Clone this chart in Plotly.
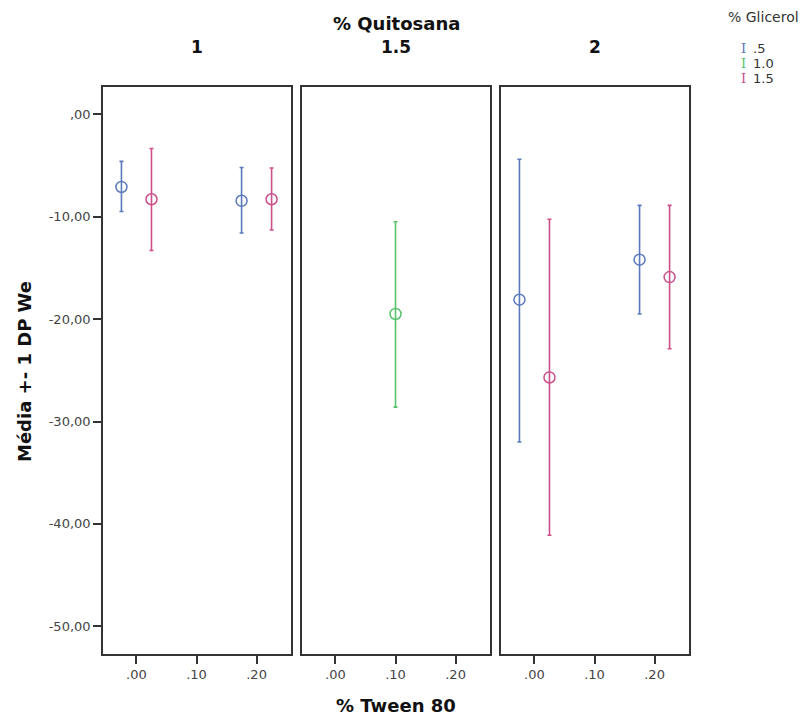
import plotly.graph_objects as go

# ---- data ----
quitosana_levels = ["1", "1.5", "2"]
glicerol_levels = [".5", "1.0", "1.5"]
glicerol_colors = ["#5a78bd", "#56c26a", "#cc4f8a"]

# per panel, per glicerol: tween values, means, upper (mean+1SD), lower (mean-1SD)
tween_q1_g05 = [0.0, 0.2]
mean_q1_g05 = [-7.1, -8.45]
upper_q1_g05 = [-4.6, -5.2]
lower_q1_g05 = [-9.5, -11.6]

tween_q1_g15 = [0.0, 0.2]
mean_q1_g15 = [-8.3, -8.3]
upper_q1_g15 = [-3.35, -5.25]
lower_q1_g15 = [-13.3, -11.3]

tween_q15_g10 = [0.1]
mean_q15_g10 = [-19.5]
upper_q15_g10 = [-10.5]
lower_q15_g10 = [-28.6]

tween_q2_g05 = [0.0, 0.2]
mean_q2_g05 = [-18.1, -14.2]
upper_q2_g05 = [-4.4, -8.9]
lower_q2_g05 = [-32.0, -19.5]

tween_q2_g15 = [0.0, 0.2]
mean_q2_g15 = [-25.7, -15.9]
upper_q2_g15 = [-10.25, -8.9]
lower_q2_g15 = [-41.1, -22.9]

y_tickvals = [0, -10, -20, -30, -40, -50]
y_ticktext = [",00", "-10,00", "-20,00", "-30,00", "-40,00", "-50,00"]
x_tickvals = [0.0, 0.1, 0.2]
x_ticktext = [".00", ".10", ".20"]

panels = [
    [(0, tween_q1_g05, mean_q1_g05, upper_q1_g05, lower_q1_g05),
     (2, tween_q1_g15, mean_q1_g15, upper_q1_g15, lower_q1_g15)],
    [(1, tween_q15_g10, mean_q15_g10, upper_q15_g10, lower_q15_g10)],
    [(0, tween_q2_g05, mean_q2_g05, upper_q2_g05, lower_q2_g05),
     (2, tween_q2_g15, mean_q2_g15, upper_q2_g15, lower_q2_g15)],
]

OFF = 8  # page body margin
W, H = 799, 710
panel_px = [(103, 291), (302, 490), (501, 689)]
ytop, ybot = 87, 654
dodge = 0.025


def px(xp):
    return (xp - OFF) / W


def py(yp):
    return 1 - (yp - OFF) / H


fig = go.Figure()
FONT = "DejaVu Sans, Verdana, sans-serif"

for pi, series in enumerate(panels):
    n = len(series)
    axn = "" if pi == 0 else str(pi + 1)
    for si, (gi, tw, mn, up, lo) in enumerate(series):
        off = (si - (n - 1) / 2) * 2 * dodge
        xs = [t + off for t in tw]
        fig.add_trace(go.Scatter(
            x=xs, y=mn, mode="markers",
            xaxis="x" + axn, yaxis="y" + axn,
            marker=dict(symbol="circle-open", size=11, color=glicerol_colors[gi],
                        line=dict(width=1.5, color=glicerol_colors[gi])),
            error_y=dict(type="data", symmetric=False,
                         array=[u - m for u, m in zip(up, mn)],
                         arrayminus=[m - l for m, l in zip(mn, lo)],
                         color=glicerol_colors[gi], thickness=1.6, width=2),
            showlegend=False, hoverinfo="skip"))

layout = dict(width=W, height=H, margin=dict(l=0, r=0, t=0, b=0),
              paper_bgcolor="white", plot_bgcolor="white",
              font=dict(family=FONT, color="#222"))
for pi, (x0, x1) in enumerate(panel_px):
    axn = "" if pi == 0 else str(pi + 1)
    layout["xaxis" + axn] = dict(
        domain=[px(x0), px(x1)], range=[-0.0557, 0.2573],
        tickvals=x_tickvals, ticktext=x_ticktext, ticks="outside", ticklen=8,
        tickwidth=1.5, tickcolor="#333", showline=True, linecolor="#333",
        linewidth=1.6, mirror=True, showgrid=False, zeroline=False,
        tickfont=dict(size=13, color="#444"), anchor="y" + axn, fixedrange=True)
    layout["yaxis" + axn] = dict(
        domain=[py(ybot), py(ytop)], range=[-52.7, 2.66],
        tickvals=y_tickvals, ticktext=y_ticktext,
        ticks="outside" if pi == 0 else "", ticklen=8, tickwidth=1.5,
        tickcolor="#333", showticklabels=(pi == 0),
        showline=True, linecolor="#333", linewidth=1.6, mirror=True,
        showgrid=False, zeroline=False, tickfont=dict(size=13, color="#444"),
        anchor="x" + axn, fixedrange=True)
fig.update_layout(**layout)


def note(text, x, y, size, color="#111", **kw):
    d = dict(text=text, x=px(x), y=py(y), xref="paper", yref="paper",
             xanchor="center", yanchor="middle", showarrow=False,
             font=dict(size=size, color=color, family=kw.pop("family", FONT)))
    d.update(kw)
    return d


ann = [note("<b>% Quitosana</b>", 396, 24, 18)]
for pi, (x0, x1) in enumerate(panel_px):
    ann.append(note("<b>" + quitosana_levels[pi] + "</b>", (x0 + x1) / 2, 47, 17))
ann.append(note("<b>% Tween 80</b>", 396, 705, 18))
ann.append(note("<b>Média +- 1 DP We</b>", 24, 372, 18, textangle=-90))
ann.append(note("% Glicerol", 763, 17, 14, color="#333"))
for i, lab in enumerate(glicerol_levels):
    yy = 48 + i * 15.5
    ann.append(note("I", 743, yy, 13, color=glicerol_colors[i],
                    family="DejaVu Serif, serif"))
    ann.append(note(lab, 751, yy, 13, color="#333", xanchor="left"))
fig.update_layout(annotations=ann)

fig.write_html("out.html")
